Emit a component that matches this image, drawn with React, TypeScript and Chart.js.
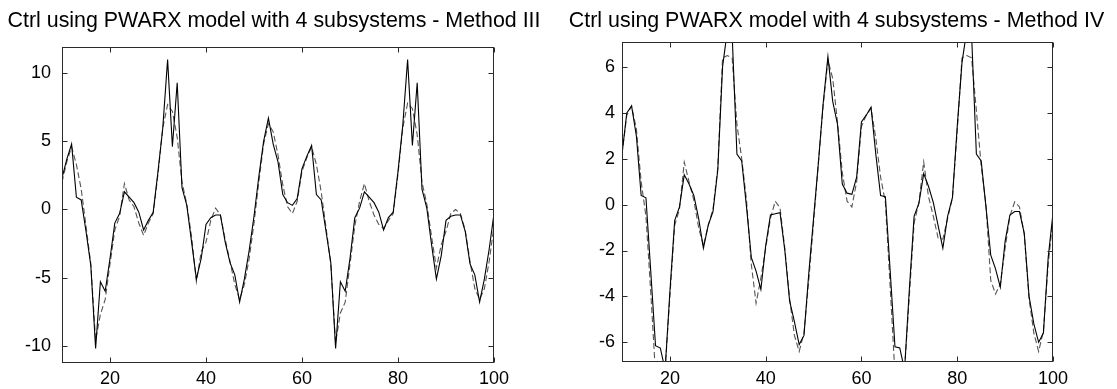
import React, { useEffect, useRef } from 'react';
import { Chart, registerables } from 'chart.js';

Chart.register(...registerables);

const SAMPLES = [
  10, 11, 12, 13, 14, 15, 16, 17, 18, 19, 20, 21, 22, 23, 24, 25, 26, 27, 28, 29,
  30, 31, 32, 33, 34, 35, 36, 37, 38, 39, 40, 41, 42, 43, 44, 45, 46, 47, 48, 49,
  50, 51, 52, 53, 54, 55, 56, 57, 58, 59, 60, 61, 62, 63, 64, 65, 66, 67, 68, 69,
  70, 71, 72, 73, 74, 75, 76, 77, 78, 79, 80, 81, 82, 83, 84, 85, 86, 87, 88, 89,
  90, 91, 92, 93, 94, 95, 96, 97, 98, 99, 100,
];

// Method III
const LEFT_SOLID = [
  2.3, 3.7, 4.8, 0.9, 0.7, -1.6, -4.1, -10.2, -5.3, -6.0,
  -3.6, -1.0, -0.3, 1.3, 0.9, 0.5, -0.2, -1.5, -0.8, -0.2,
  2.8, 6.0, 11.0, 4.6, 9.3, 1.6, 0.3, -2.4, -5.1, -3.6,
  -1.1, -0.6, -0.4, -0.4, -2.4, -3.9, -4.8, -6.8, -5.1, -3.0,
  -0.5, 2.4, 5.0, 6.7, 4.8, 3.5, 1.1, 0.5, 0.3, 0.8,
  3.0, 3.9, 4.7, 1.1, 0.7, -1.6, -3.9, -10.2, -5.3, -6.0,
  -3.6, -0.6, 0.1, 1.3, 0.9, 0.5, -0.2, -1.5, -0.6, -0.2,
  2.8, 6.2, 11.0, 4.7, 9.3, 1.5, 0.1, -2.6, -5.1, -3.4,
  -0.8, -0.5, -0.4, -0.4, -1.6, -4.0, -4.8, -6.8, -5.1, -2.9,
  -0.3,
];
const LEFT_DASHED = [
  2.0, 3.5, 4.6, 3.3, 1.5, -1.2, -4.0, -9.6, -7.7, -6.6,
  -4.0, -1.5, -0.5, 1.9, 0.7, 0.2, -1.0, -1.9, -1.0, -0.3,
  2.6, 6.0, 7.7, 7.2, 5.3, 2.0, 0.4, -2.0, -5.3, -3.1,
  -2.4, -0.8, 0.1, -0.4, -2.2, -3.8, -5.5, -6.6, -5.5, -3.6,
  -1.0, 2.0, 4.8, 6.3, 5.7, 4.0, 1.8, 0.2, -0.3, 0.6,
  2.8, 3.8, 4.6, 3.3, 1.3, -1.3, -4.0, -9.8, -7.6, -6.8,
  -4.0, -1.2, 0.6, 1.9, 0.6, -0.4, -1.1, -1.4, -0.8, -0.3,
  2.6, 6.0, 7.8, 7.4, 5.5, 2.0, 0.4, -2.0, -4.3, -2.6,
  -1.6, -0.3, 0.0, -0.3, -1.5, -3.8, -5.8, -6.6, -5.8, -3.8,
  -1.2,
];

// Method IV
const RIGHT_SOLID = [
  2.2, 4.0, 4.3, 3.0, 0.4, 0.3, -2.9, -6.15, -6.25, -7.2,
  -3.8, -0.7, -0.1, 1.3, 0.9, 0.4, -0.6, -1.9, -0.9, -0.3,
  1.5, 6.0, 7.6, 7.4, 2.2, 1.9, -0.1, -2.3, -2.9, -3.7,
  -1.8, -0.45, -0.4, -0.35, -2.0, -4.2, -5.1, -6.1, -5.7, -3.0,
  -0.6, 1.8, 4.4, 6.45, 4.5, 3.5, 0.9, 0.5, 0.45, 1.2,
  3.6, 3.9, 4.25, 2.2, 0.4, 0.35, -2.9, -6.2, -6.25, -7.2,
  -3.7, -0.5, 0.05, 1.35, 0.8, 0.1, -0.9, -1.9, -0.5, 0.3,
  3.4, 6.2, 7.6, 7.4, 2.2, 1.9, -0.1, -2.2, -2.8, -3.6,
  -1.6, -0.45, -0.3, -0.3, -1.25, -4.0, -5.2, -6.0, -5.6, -2.3,
  -0.37,
];
const RIGHT_DASHED = [
  2.2, 3.9, 4.3, 3.3, 1.0, -0.5, -3.8, -7.4, -7.5, -7.2,
  -4.0, -0.9, -0.2, 1.85, 1.0, 0.2, -1.0, -1.8, -0.9, -0.2,
  1.6, 6.4, 6.5, 6.4, 3.5, 2.0, 0.2, -2.6, -4.3, -3.2,
  -1.9, -0.6, 0.15, -0.15, -1.9, -4.1, -5.7, -6.4, -5.6, -3.3,
  -0.8, 1.8, 4.3, 6.3, 5.5, 3.6, 1.4, 0.15, -0.1, 1.0,
  3.4, 3.9, 4.2, 2.9, 1.2, 0.1, -3.6, -7.4, -7.5, -7.2,
  -4.0, -0.8, 0.1, 1.86, 0.35, -0.5, -1.45, -1.5, -0.6, 0.3,
  3.2, 6.4, 6.5, 6.4, 4.1, 1.7, 0.0, -3.3, -3.9, -3.45,
  -1.9, -0.5, 0.12, -0.1, -1.3, -4.1, -5.6, -6.4, -5.5, -2.6,
  -0.6,
];

const X_TICKS = [20, 40, 60, 80, 100];
const LEFT_Y_TICKS = [-10, -5, 0, 5, 10];
const RIGHT_Y_TICKS = [-6, -4, -2, 0, 2, 4, 6];

const LEFT_TITLE = 'Ctrl using PWARX model with 4 subsystems - Method III';
const RIGHT_TITLE = 'Ctrl using PWARX model with 4 subsystems - Method IV';

const FONT = "'Liberation Sans', Arial, Helvetica, sans-serif";

type Panel = {
  title: string;
  solid: number[];
  dashed: number[];
  yTicks: number[];
  yMin: number;
  yMax: number;
  width: number;
  yAxisWidth: number;
  rightGap: number;
  xAxisHeight: number;
  titleTop: number;
  titleBottom: number;
  yLabelPad: number;
  xLabelPad: number;
};

const framePlugin = {
  id: 'matlabFrame',
  afterDatasetsDraw(chart: any, _args: any, opts: any) {
    const { ctx, chartArea: a, scales } = chart;
    const xs = scales.x;
    const ys = scales.y;
    const L = Math.round(a.left) + 0.5;
    const R = Math.round(a.right) - 0.5;
    const T = Math.round(a.top) + 0.5;
    const B = Math.round(a.bottom) - 0.5;
    const tl = 5;
    ctx.save();
    ctx.strokeStyle = '#2a2a2a';
    ctx.lineWidth = 1;
    ctx.strokeRect(L, T, R - L, B - T);
    ctx.beginPath();
    for (const v of opts.xTicks as number[]) {
      const px = Math.round(xs.getPixelForValue(v)) + 0.5;
      ctx.moveTo(px, B);
      ctx.lineTo(px, B - tl);
      ctx.moveTo(px, T);
      ctx.lineTo(px, T + tl);
    }
    for (const v of opts.yTicks as number[]) {
      const py = Math.round(ys.getPixelForValue(v)) + 0.5;
      ctx.moveTo(L, py);
      ctx.lineTo(L + tl, py);
      ctx.moveTo(R, py);
      ctx.lineTo(R - tl, py);
    }
    ctx.stroke();
    ctx.restore();
  },
};

function buildConfig(p: Panel): any {
  return {
    type: 'line',
    data: {
      datasets: [
        {
          label: 'solid',
          data: SAMPLES.map((x, i) => ({ x, y: p.solid[i] })),
          borderColor: '#000000',
          borderWidth: 1.1,
          pointRadius: 0,
          fill: false,
          tension: 0,
        },
        {
          label: 'dashed',
          data: SAMPLES.map((x, i) => ({ x, y: p.dashed[i] })),
          borderColor: '#555555',
          borderWidth: 1.1,
          borderDash: [6, 3],
          pointRadius: 0,
          fill: false,
          tension: 0,
        },
      ],
    },
    options: {
      animation: false,
      responsive: false,
      maintainAspectRatio: false,
      events: [],
      layout: { padding: 0 },
      plugins: {
        legend: { display: false },
        tooltip: { enabled: false },
        title: {
          display: true,
          text: p.title,
          color: '#000000',
          font: { family: FONT, size: 21.4, weight: 'normal' },
          padding: { top: p.titleTop, bottom: p.titleBottom },
        },
        matlabFrame: { xTicks: X_TICKS, yTicks: p.yTicks },
      },
      scales: {
        x: {
          type: 'linear',
          min: 10,
          max: 100,
          grid: { display: false, drawTicks: false },
          border: { display: false },
          ticks: {
            autoSkip: false,
            maxRotation: 0,
            padding: p.xLabelPad,
            color: '#000000',
            font: { family: FONT, size: 18 },
            callback: (v: number) => String(v),
          },
          afterBuildTicks: (s: any) => {
            s.ticks = X_TICKS.map((v) => ({ value: v }));
          },
          afterFit: (s: any) => {
            s.height = p.xAxisHeight;
          },
        },
        y: {
          type: 'linear',
          position: 'left',
          min: p.yMin,
          max: p.yMax,
          grid: { display: false, drawTicks: false },
          border: { display: false },
          ticks: {
            autoSkip: false,
            padding: p.yLabelPad,
            color: '#000000',
            font: { family: FONT, size: 18 },
            callback: (v: number) => String(v),
          },
          afterBuildTicks: (s: any) => {
            s.ticks = p.yTicks.map((v) => ({ value: v }));
          },
          afterFit: (s: any) => {
            s.width = p.yAxisWidth;
          },
        },
        yGap: {
          type: 'linear',
          position: 'right',
          min: p.yMin,
          max: p.yMax,
          grid: { display: false, drawTicks: false },
          border: { display: false },
          ticks: { display: false },
          afterFit: (s: any) => {
            s.width = p.rightGap;
          },
        },
      },
    },
    plugins: [framePlugin],
  };
}

const LEFT_PANEL: Panel = {
  title: LEFT_TITLE,
  solid: LEFT_SOLID,
  dashed: LEFT_DASHED,
  yTicks: LEFT_Y_TICKS,
  yMin: -11.27,
  yMax: 11.93,
  width: 548,
  yAxisWidth: 62,
  rightGap: 54,
  xAxisHeight: 26,
  titleTop: 8.1,
  titleBottom: 13.2,
  yLabelPad: 11,
  xLabelPad: 5,
};

const RIGHT_PANEL: Panel = {
  title: RIGHT_TITLE,
  solid: RIGHT_SOLID,
  dashed: RIGHT_DASHED,
  yTicks: RIGHT_Y_TICKS,
  yMin: -6.86,
  yMax: 7.09,
  width: 561,
  yAxisWidth: 66,
  rightGap: 64,
  xAxisHeight: 27,
  titleTop: 8.1,
  titleBottom: 8.2,
  yLabelPad: 7,
  xLabelPad: 6,
};

function PanelChart({ panel, left }: { panel: Panel; left: number }) {
  const ref = useRef<HTMLCanvasElement | null>(null);
  useEffect(() => {
    if (!ref.current) return;
    const chart = new Chart(ref.current, buildConfig(panel));
    return () => chart.destroy();
  }, [panel]);
  return (
    <canvas
      ref={ref}
      width={panel.width}
      height={389}
      style={{ position: 'absolute', left, top: 0, width: panel.width, height: 389 }}
    />
  );
}

export default function App() {
  return (
    <div
      style={{
        position: 'fixed',
        left: 0,
        top: 0,
        width: 1117,
        height: 389,
        background: '#ffffff',
        overflow: 'hidden',
      }}
    >
      <PanelChart panel={LEFT_PANEL} left={0} />
      <PanelChart panel={RIGHT_PANEL} left={556} />
    </div>
  );
}
